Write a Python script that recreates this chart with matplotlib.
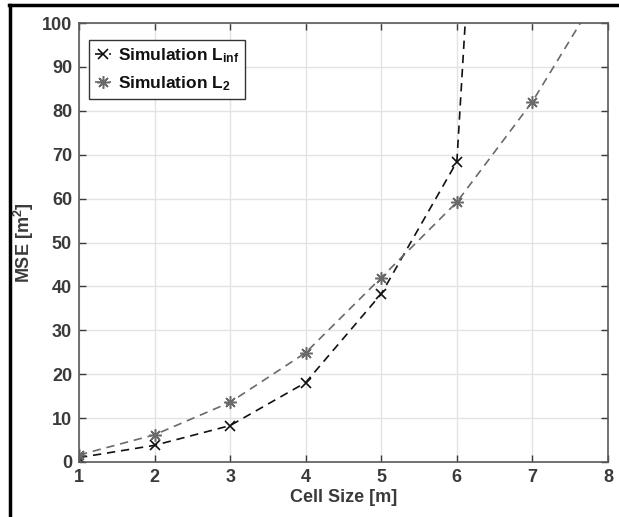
import matplotlib
matplotlib.use("Agg")
import matplotlib.pyplot as plt
from matplotlib.lines import Line2D

# values
cell_size = [1, 2, 3, 4, 5, 6, 7]
mse_linf = [1.0, 3.8, 8.3, 18.1, 38.3, 68.4, 355.0]
cell_size_l2 = [1, 2, 3, 4, 5, 6, 7, 8]
mse_l2 = [1.6, 6.2, 13.6, 24.9, 42.0, 59.2, 82.1, 110.3]
x_ticks = [1, 2, 3, 4, 5, 6, 7, 8]
y_ticks = [0, 10, 20, 30, 40, 50, 60, 70, 80, 90, 100]

plt.rcParams["font.family"] = ["Liberation Sans", "DejaVu Sans"]
plt.rcParams["font.weight"] = "bold"
plt.rcParams["mathtext.fontset"] = "custom"
plt.rcParams["mathtext.rm"] = "Liberation Sans:bold"
plt.rcParams["mathtext.it"] = "Liberation Sans:bold"
plt.rcParams["mathtext.bf"] = "Liberation Sans:bold"

fig = plt.figure(figsize=(6.19, 5.17), dpi=100)
ax = fig.add_axes([79 / 619, 1 - 462 / 517, 529 / 619, 439 / 517])

asterisk = (8, 2, 0)
ax.plot(cell_size, mse_linf, linestyle=(0, (5, 3.5)), color="#111111", linewidth=1.2,
        marker="x", markersize=7, markeredgewidth=1.2,
        label="Simulation L$_{\\mathrm{inf}}$")
ax.plot(cell_size_l2, mse_l2, linestyle=(0, (5, 3.5)), color="#6a6a6a", linewidth=1.2,
        marker=asterisk, markersize=9, markeredgewidth=1.1,
        label="Simulation L$_{2}$")

ax.set_xlim(1, 8)
ax.set_ylim(0, 100)
ax.set_xticks(x_ticks)
ax.set_yticks(y_ticks)
ax.grid(True, color="#e3e3e3", linewidth=1.0)
ax.set_axisbelow(True)
ax.tick_params(direction="in", top=True, right=True, length=5, pad=5,
               labelsize=13, colors="#3a3a3a", width=1.0)
for lab in ax.get_xticklabels() + ax.get_yticklabels():
    lab.set_fontweight("bold")
for sp in ax.spines.values():
    sp.set_color("#5a5a5a")
    sp.set_linewidth(1.2)

ax.set_xlabel("Cell Size [m]", fontsize=13, fontweight="bold", color="#3a3a3a", labelpad=2)
ax.set_ylabel("MSE [m$^2$]", fontsize=13, fontweight="bold", color="#3a3a3a", labelpad=4)

leg = ax.legend(loc="upper left", bbox_to_anchor=(0.0, 0.985), fancybox=False,
                edgecolor="#333333", framealpha=1, fontsize=12.5,
                handlelength=0.9, handletextpad=0.4, borderpad=0.35,
                labelspacing=0.55, borderaxespad=0.6)
leg.get_frame().set_linewidth(1.0)
for t in leg.get_texts():
    t.set_fontweight("bold")
    t.set_color("#111111")

# figure frame on top and left edges, as in the reference crop
fig.add_artist(Line2D([9 / 619, 1.0], [1 - 5 / 517, 1 - 5 / 517],
                      transform=fig.transFigure, color="black", linewidth=2.5))
fig.add_artist(Line2D([10 / 619, 10 / 619], [0.0, 1 - 5 / 517],
                      transform=fig.transFigure, color="black", linewidth=2.5))

fig.savefig("out.png", dpi=100)
